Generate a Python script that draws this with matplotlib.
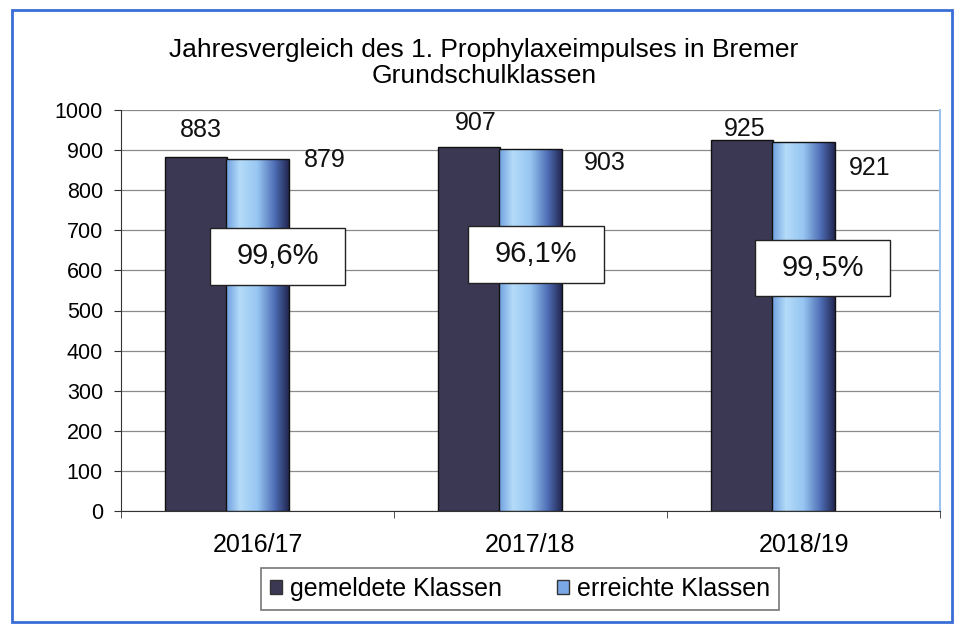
import matplotlib
matplotlib.use("Agg")
import matplotlib.pyplot as plt
import numpy as np
from matplotlib.patches import Rectangle, Patch
from matplotlib.colors import LinearSegmentedColormap

plt.rcParams['font.family'] = ['Liberation Sans', 'DejaVu Sans']

categories = ["2016/17", "2017/18", "2018/19"]
gemeldet = [883, 907, 925]
erreicht = [879, 903, 921]
quote = ["99,6%", "96,1%", "99,5%"]
y_ticks = [0, 100, 200, 300, 400, 500, 600, 700, 800, 900, 1000]
title = "Jahresvergleich des 1. Prophylaxeimpulses in Bremer\nGrundschulklassen"
series_names = ["gemeldete Klassen", "erreichte Klassen"]

W, H = 955, 627
fig = plt.figure(figsize=(W / 100, H / 100), dpi=100)
fig.patch.set_facecolor("white")

# outer blue frame
fig.patches.append(Rectangle((12 / W, 1 - 622 / H), (952 - 12) / W, (622 - 10) / H,
                             transform=fig.transFigure, fill=False,
                             edgecolor="#3a6ed6", linewidth=2.0))

ax = fig.add_axes([121 / W, 1 - 511 / H, (940 - 121) / W, (511 - 110) / H])

x = np.arange(len(categories))
bw = 0.23
dark_off = -0.225
light_off = 0.0

ax.bar(x + dark_off, gemeldet, width=bw, color="#3b3854", edgecolor="#111111",
       linewidth=1.0, zorder=3, label=series_names[0])

light_cmap = LinearSegmentedColormap.from_list(
    "lb", [(0.0, "#6f9fe0"), (0.22, "#b4dbf8"), (0.5, "#97c6f2"),
           (0.78, "#4d6cb4"), (1.0, "#22264f")])
grad = np.linspace(0, 1, 256).reshape(1, -1)
light_bars = ax.bar(x + light_off, erreicht, width=bw, color="#9cc8f0",
                    edgecolor="#111111", linewidth=1.0, zorder=3,
                    label=series_names[1])
for b in light_bars:
    bx, by = b.get_x(), b.get_y()
    bwid, bh = b.get_width(), b.get_height()
    im = ax.imshow(grad, cmap=light_cmap, aspect="auto",
                   extent=[bx, bx + bwid, by, by + bh], zorder=3.5)
    im.set_clip_path(b)
    b.set_facecolor("none")
    b.set_zorder(4)

ax.set_xlim(-0.5, 2.5)
ax.set_ylim(0, 1000)

# grid
ax.set_yticks(y_ticks)
ax.yaxis.grid(True, color="#8a8a8a", linewidth=0.9, zorder=0)
ax.set_axisbelow(True)

ax.spines["top"].set_visible(False)
ax.spines["right"].set_color("#9cc3f0")
ax.spines["right"].set_linewidth(1.5)
ax.spines["left"].set_color("#333333")
ax.spines["bottom"].set_color("#333333")

ax.tick_params(axis="y", labelsize=15.5, length=5, color="#333333", pad=8)
ax.set_xticks(x)
ax.set_xticklabels(categories, fontsize=18)
ax.tick_params(axis="x", length=0, pad=16)
ax.set_xticks([-0.5, 0.5, 1.5, 2.5], minor=True)
ax.tick_params(axis="x", which="minor", length=5, color="#333333")

# value labels (offsets from bar value / category centre)
dark_lbl_pos = [(-0.209, 66), (-0.201, 60), (-0.214, 28)]
light_lbl_pos = [(0.247, -4), (0.273, -35), (0.244, -66)]
for i in range(len(categories)):
    dx, dy = dark_lbl_pos[i]
    ax.text(x[i] + dx, gemeldet[i] + dy, str(gemeldet[i]), ha="center",
            va="center", fontsize=18, color="#111111", zorder=6)
    lx, ly = light_lbl_pos[i]
    ax.text(x[i] + lx, erreicht[i] + ly, str(erreicht[i]), ha="center",
            va="center", fontsize=18, color="#111111", zorder=6)

# percentage boxes
box_pos = [(0.073, 635), (1.02, 640), (2.071, 606)]
box_w, box_h = 0.495, 142
for i, q in enumerate(quote):
    bxp, byp = box_pos[i]
    ax.add_patch(Rectangle((bxp - box_w / 2, byp - box_h / 2), box_w, box_h,
                           facecolor="white", edgecolor="#222222",
                           linewidth=1.0, zorder=7))
    ax.text(bxp, byp, q, ha="center", va="center", fontsize=21,
            color="#111111", zorder=8)

fig.text(484 / W, 1 - 63 / H, title, ha="center", va="center", fontsize=19,
         linespacing=1.1)

# legend
handles = [Patch(facecolor="#3b3854", edgecolor="#333333"),
           Patch(facecolor="#7aa8e6", edgecolor="#333333")]
leg = fig.legend(handles, series_names, loc="center",
                 bbox_to_anchor=(520 / W, 1 - 589 / H), ncol=2, fontsize=18,
                 frameon=True, fancybox=False, edgecolor="#555555",
                 handlelength=0.5, handleheight=0.5, handletextpad=0.3,
                 columnspacing=2.2, borderpad=0.35, borderaxespad=0.0)
leg.get_frame().set_linewidth(1.2)

fig.savefig("out.png", dpi=100, facecolor="white")
